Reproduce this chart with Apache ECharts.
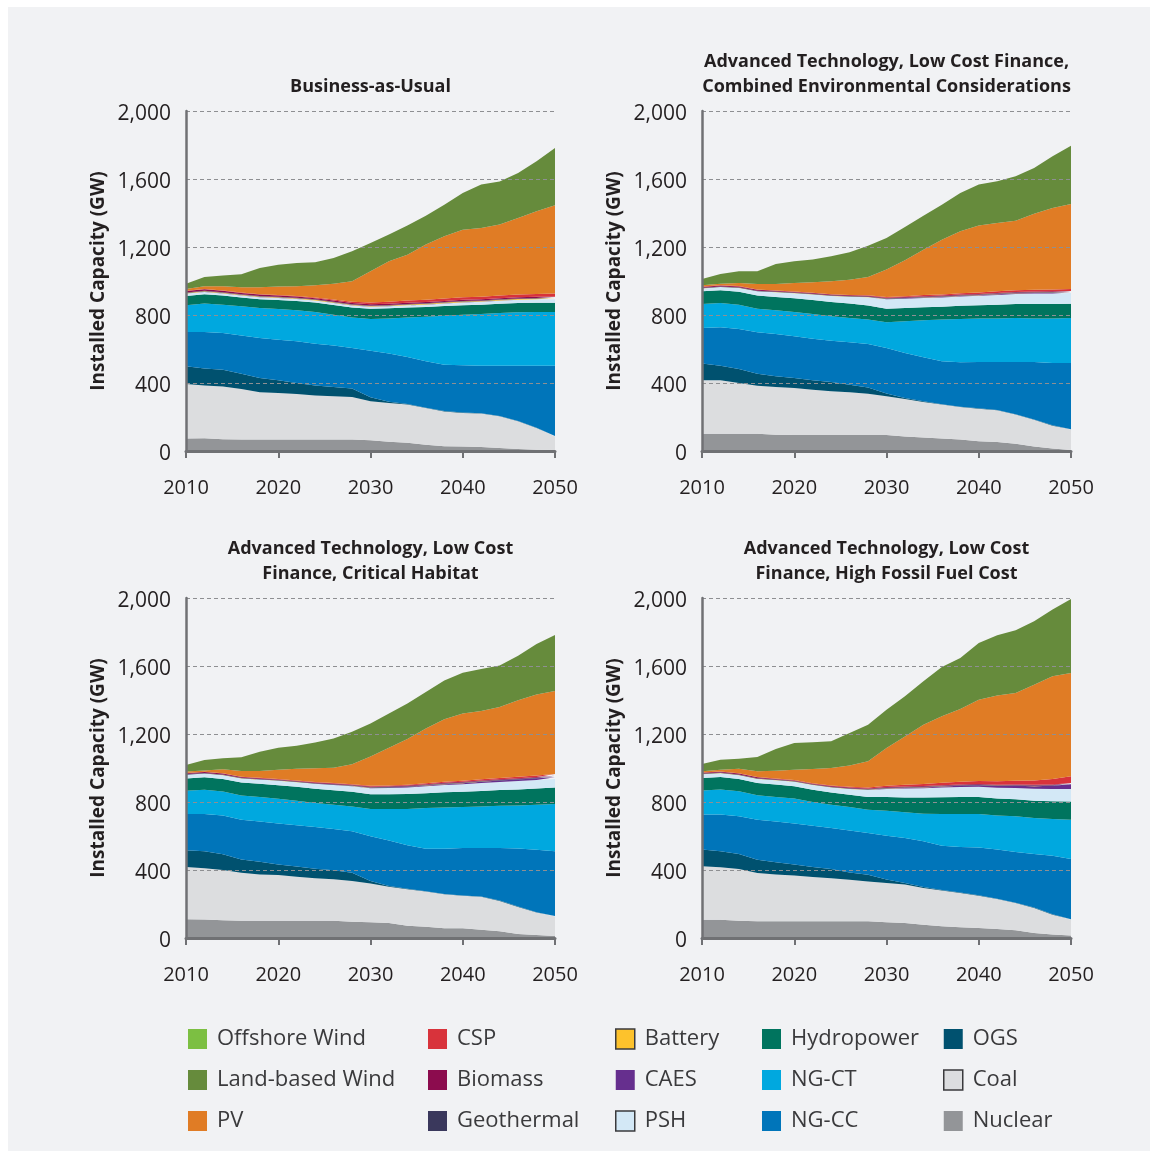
<!DOCTYPE html>
<html>
<head>
<meta charset="utf-8">
<script src="https://cdn.jsdelivr.net/npm/echarts@6/dist/echarts.min.js"></script>
<style>
  html, body { margin: 0; padding: 0; background: #fff; }
  #chart { width: 1158px; height: 1159px; }
</style>
</head>
<body>
<div id="chart"></div>
<script>
// years on the x axis (every two years)
const years = ['2010','2012','2014','2016','2018','2020','2022','2024','2026','2028','2030',
               '2032','2034','2036','2038','2040','2042','2044','2046','2048','2050'];
const yTicks = [0, 400, 800, 1200, 1600, 2000];

// scenario titles, one per panel
const scenarios = [
  'Business-as-Usual',
  'Advanced Technology, Low Cost Finance,\nCombined Environmental Considerations',
  'Advanced Technology, Low Cost\nFinance, Critical Habitat',
  'Advanced Technology, Low Cost\nFinance, High Fossil Fuel Cost'
];

// installed capacity (GW), one row per scenario, in panel order
const nuclear = [
  [73,75,69,67,67,67,67,67,67,67,63,55,49,37,28,26,24,18,12,8,6],
  [102,102,102,102,96,94,94,94,94,94,94,86,80,73,67,57,53,43,27,14,6],
  [111,109,105,101,101,101,101,101,101,96,92,88,72,66,58,57,49,39,23,18,12],
  [108,108,102,98,98,98,98,98,98,98,92,88,78,69,63,59,53,45,29,20,14]
];
const coal = [
  [321,311,311,298,278,274,268,260,255,251,229,227,224,216,205,198,196,186,163,127,80],
  [314,314,298,282,281,277,267,257,251,243,228,220,208,200,192,192,186,171,157,135,120],
  [306,301,295,283,273,270,260,250,244,239,228,214,215,207,199,191,193,179,160,132,115],
  [314,308,304,284,275,269,261,253,245,235,232,226,216,211,202,190,176,161,148,117,94]
];
const ogs = [
  [104,100,98,90,84,75,65,59,55,49,24,8,4,2,2,2,2,2,2,2,2],
  [98,86,82,71,63,59,55,55,45,37,16,6,4,2,2,2,2,2,2,2,2],
  [99,101,92,78,74,62,59,57,53,49,16,4,2,2,2,2,2,2,2,2,2],
  [98,94,88,78,73,65,59,55,43,39,20,10,6,2,2,2,2,2,2,2,2]
];
const ngcc = [
  [202,214,216,224,236,239,245,245,243,239,274,283,276,273,273,278,280,296,325,365,414],
  [210,226,236,243,248,245,245,243,249,256,268,265,259,253,261,273,283,308,338,367,390],
  [213,218,228,234,238,240,243,245,243,244,263,267,257,250,266,280,286,310,342,367,382],
  [206,216,222,236,240,241,243,241,247,246,258,264,269,261,268,282,289,298,315,345,355]
];
const ngct = [
  [157,167,167,172,176,180,183,187,182,180,187,207,233,262,288,298,304,310,314,316,316],
  [141,143,143,139,140,143,145,143,143,143,151,186,218,245,255,255,256,258,256,261,264],
  [137,143,142,142,143,146,144,141,143,146,160,186,213,239,243,240,244,248,253,265,277],
  [141,147,147,143,144,147,139,137,138,137,147,151,162,186,194,196,200,210,212,216,231]
];
const hydro = [
  [55,55,53,52,52,53,54,55,57,58,60,60,58,57,57,56,55,54,54,54,54],
  [75,75,76,77,78,80,82,84,85,83,80,78,77,76,77,78,80,82,84,85,84],
  [72,73,74,76,78,80,82,84,85,86,87,87,88,88,89,90,91,92,94,95,97],
  [74,74,73,73,73,73,72,72,72,75,80,88,95,99,100,100,100,100,102,104,107]
];
const psh = [
  [14,14,13,12,12,12,12,12,12,12,12,12,13,14,15,16,17,18,19,20,21],
  [16,18,22,25,28,30,33,36,40,48,55,55,54,54,55,56,58,60,62,63,63],
  [22,22,22,24,25,26,27,29,31,33,35,37,39,41,43,45,47,48,49,50,51],
  [22,22,22,24,25,26,28,30,33,40,48,52,55,57,59,61,64,67,70,72,73]
];
const caes = [
  [1,1,1,1,1,1,1,1,1,1,1,1,1,1,1,1,1,1,1,1,1],
  [0,0,0,0,0,0,0,0,1,1,2,2,3,3,3,3,4,4,4,4,4],
  [0,0,0,0,0,0,0,0,1,1,2,2,3,4,5,6,7,8,9,10,10],
  [0,0,0,0,0,0,0,0,1,2,3,4,5,6,7,8,10,12,15,19,28]
];
const battery = [
  [3,3,3,3,3,3,3,3,3,3,3,3,4,4,4,4,4,4,4,4,4],
  [1,1,1,1,1,1,1,1,1,1,1,1,1,1,1,1,1,1,1,1,1],
  [1,1,1,1,1,1,1,1,1,1,1,1,1,1,1,1,1,1,1,1,1],
  [1,1,1,1,1,1,1,1,1,1,1,1,1,1,1,1,1,1,1,1,1]
];
const geothermal = [
  [3,3,3,3,3,3,3,3,3,3,3,3,3,3,3,3,3,3,3,3,3],
  [3,3,3,3,3,3,3,3,3,3,3,3,3,3,3,3,3,3,3,3,3],
  [3,3,3,3,3,3,3,3,3,3,3,3,3,3,3,3,3,3,3,3,3],
  [3,3,3,3,3,3,3,3,3,3,3,3,3,3,3,3,3,3,3,3,3]
];
const biomass = [
  [8,8,8,8,8,8,8,7,7,7,7,7,7,7,7,7,7,7,7,7,7],
  [5,5,5,5,4,4,4,4,4,4,4,4,4,4,4,4,4,4,4,4,4],
  [5,5,5,5,4,4,4,4,4,4,4,4,4,4,4,4,4,4,4,4,4],
  [5,5,5,5,4,4,4,4,4,4,4,4,4,4,4,4,4,4,4,4,4]
];
const csp = [
  [2,2,2,2,2,3,3,4,6,8,10,12,14,14,14,15,15,15,16,17,18],
  [2,2,2,2,2,2,2,2,2,3,4,5,6,7,8,9,9,10,10,11,12],
  [2,2,2,2,2,2,2,2,3,3,4,4,5,5,6,6,7,7,8,9,10],
  [2,2,2,2,2,2,2,3,4,6,8,10,12,14,16,18,20,22,26,32,40]
];
const pv = [
  [10,16,25,31,41,49,57,72,93,120,184,238,269,324,366,398,404,418,451,486,519],
  [8,9,18,32,38,50,61,76,90,108,161,211,267,322,364,393,402,409,448,480,500],
  [8,7,24,34,41,54,69,81,90,117,172,222,268,322,368,395,402,418,450,477,489],
  [7,10,27,34,46,61,84,103,125,153,222,285,349,391,428,478,504,516,563,604,607]
];
const landWind = [
  [31,55,64,76,114,129,137,135,151,177,167,157,171,170,186,216,255,254,265,294,338],
  [37,57,69,75,118,128,134,147,161,184,186,196,200,206,226,241,246,261,269,304,343],
  [39,62,64,80,113,130,136,152,172,191,195,201,209,215,228,240,247,244,263,297,329],
  [43,59,59,84,128,157,157,157,192,216,225,236,255,290,300,333,355,370,373,393,435]
];
const offshoreWind = [
  [0,0,0,0,0,0,0,0,0,0,0,0,0,0,0,0,0,0,0,0,0],
  [0,0,0,0,0,0,0,0,0,0,0,0,0,0,0,0,0,0,0,0,0],
  [0,0,0,0,0,0,0,0,0,0,0,0,0,0,0,0,0,0,0,0,0],
  [0,0,0,0,0,0,0,0,0,0,0,0,0,0,0,0,0,0,0,0,0]
];

// stack order, bottom to top
const techs = [
  { name: 'Nuclear', data: nuclear, color: '#939598' },
  { name: 'Coal', data: coal, color: '#dcdddf', border: true },
  { name: 'OGS', data: ogs, color: '#00516f' },
  { name: 'NG-CC', data: ngcc, color: '#0075ba' },
  { name: 'NG-CT', data: ngct, color: '#00a8df' },
  { name: 'Hydropower', data: hydro, color: '#00745e' },
  { name: 'PSH', data: psh, color: '#d3e8f6', border: true },
  { name: 'CAES', data: caes, color: '#662f8e' },
  { name: 'Battery', data: battery, color: '#fdc22c', border: true },
  { name: 'Geothermal', data: geothermal, color: '#3a385c' },
  { name: 'Biomass', data: biomass, color: '#8c0c4e' },
  { name: 'CSP', data: csp, color: '#d8333b' },
  { name: 'PV', data: pv, color: '#e07c25' },
  { name: 'Land-based Wind', data: landWind, color: '#668b3c' },
  { name: 'Offshore Wind', data: offshoreWind, color: '#7cbf42' }
];

// legend columns (top to bottom inside each column)
const legendCols = [
  ['Offshore Wind', 'Land-based Wind', 'PV'],
  ['CSP', 'Biomass', 'Geothermal'],
  ['Battery', 'CAES', 'PSH'],
  ['Hydropower', 'NG-CT', 'NG-CC'],
  ['OGS', 'Coal', 'Nuclear']
];
const legendX = [188, 428, 615, 762, 943];

const panels = [
  { left: 186, top: 111, titleY: 87 },
  { left: 702, top: 111, titleY: 74 },
  { left: 186, top: 598, titleY: 561 },
  { left: 702, top: 598, titleY: 561 }
];
const gw = 369, gh = 340;
const font = '"Open Sans", "Noto Sans", sans-serif';
const ink = '#231f20';
const axisGray = '#707174';

const chart = echarts.init(document.getElementById('chart'), null, { renderer: 'canvas' });

const grids = [], xAxes = [], yAxes = [], series = [], graphics = [];

graphics.push({
  type: 'rect', z: -10, silent: true,
  shape: { x: 8, y: 7, width: 1142, height: 1144 },
  style: { fill: '#f1f2f4' }
});

panels.forEach((p, i) => {
  grids.push({ left: p.left, top: p.top, width: gw, height: gh });
  xAxes.push({
    gridIndex: i, type: 'category', data: years, boundaryGap: false,
    axisLine: { lineStyle: { color: axisGray, width: 3 } },
    axisTick: { interval: 4, length: 7, lineStyle: { color: axisGray, width: 2 } },
    axisLabel: { interval: 4, margin: 27, color: ink, fontSize: 20, fontFamily: font },
    splitLine: { show: false }, z: 5
  });
  yAxes.push({
    gridIndex: i, type: 'value', min: yTicks[0], max: yTicks[yTicks.length - 1], interval: 400,
    name: 'Installed Capacity (GW)', nameLocation: 'middle', nameGap: 78,
    nameTextStyle: { color: ink, fontSize: 19, fontWeight: 'bold', fontFamily: font },
    axisLine: { show: true, lineStyle: { color: axisGray, width: 2.5 } },
    axisTick: { show: false },
    axisLabel: { margin: 15, color: ink, fontSize: 21, fontFamily: font,
                 verticalAlign: 'top', lineHeight: 6,
                 formatter: v => v.toLocaleString('en-US') },
    splitLine: { show: true, lineStyle: { color: '#8e8f92', width: 1, type: [4, 3] } },
    z: 5
  });
  techs.forEach(t => {
    series.push({
      name: t.name, type: 'line', stack: 'p' + i,
      xAxisIndex: i, yAxisIndex: i,
      data: t.data[i],
      color: t.color,
      symbol: 'none', showSymbol: false,
      lineStyle: { width: 0 },
      areaStyle: { color: t.color, opacity: 1 },
      silent: true, animation: false
    });
  });
  graphics.push({
    type: 'text', x: p.left + gw / 2, y: p.titleY, silent: true,
    style: {
      text: scenarios[i], fill: ink, align: 'center', verticalAlign: 'middle',
      fontSize: 18, fontWeight: 'bold', fontFamily: font, lineHeight: 25
    }
  });
});

const colorOf = {};
techs.forEach(t => { colorOf[t.name] = t; });

const legends = legendCols.map((col, c) => ({
  orient: 'vertical', left: legendX[c], top: 1028, padding: 0,
  itemWidth: 19, itemHeight: 20, itemGap: 19, icon: 'rect',
  selectedMode: false,
  itemStyle: { borderWidth: 0 },
  textStyle: { color: '#3a3a3c', fontSize: 22, fontFamily: font, padding: [0, 0, 0, 5] },
  data: col.map(n => colorOf[n].border
    ? { name: n, itemStyle: { color: colorOf[n].color, borderColor: '#3a3a3c', borderWidth: 1.5 } }
    : { name: n, itemStyle: { color: colorOf[n].color } })
}));

chart.setOption({
  backgroundColor: '#ffffff',
  animation: false,
  grid: grids,
  xAxis: xAxes,
  yAxis: yAxes,
  legend: legends,
  series: series,
  graphic: graphics
});
</script>
</body>
</html>
